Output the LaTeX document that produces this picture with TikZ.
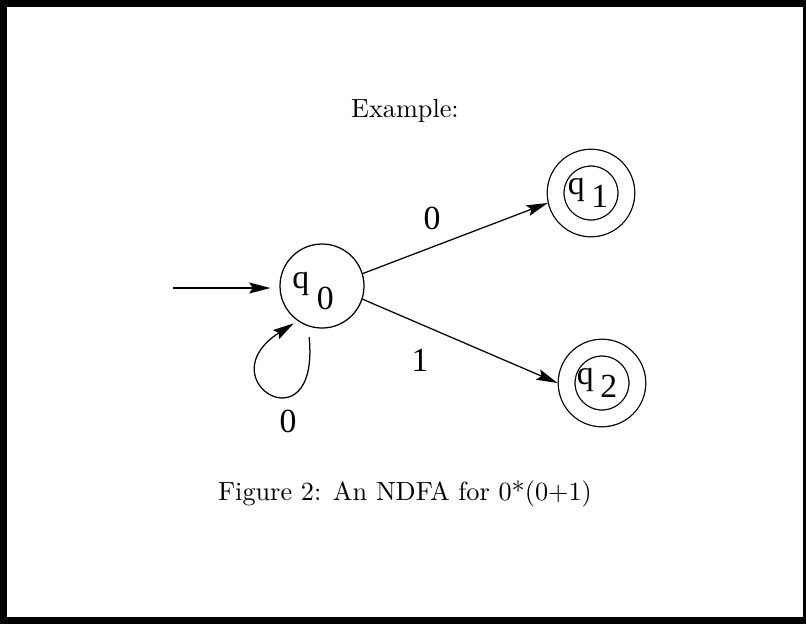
\documentclass[tikz,border=0pt]{standalone}
\usepackage{fontspec}
\newfontfamily\timesfont{Liberation Serif}
\usetikzlibrary{arrows.meta}

\begin{document}
\begin{tikzpicture}[
    x=0.4pt, y=-0.4pt, line width=0.5pt,
    state/.style={draw, circle, inner sep=0pt, minimum size=33.6pt, font=\timesfont\fontsize{13.5}{15}\selectfont},
    accept/.style={state, double, double distance=6.2pt, minimum size=28.3pt, outer sep=3.6pt},
    lbl/.style={font=\timesfont\fontsize{13.5}{15}\selectfont},
    txt/.style={font=\fontsize{10.5}{13}\selectfont},
    arr/.style={-{Stealth[length=8.5pt, width=4.4pt, inset=1.5pt]}},
  ]
  \useasboundingbox (0,0) rectangle (806,623);
  \draw[line width=2.8pt] (3.5,3.5) rectangle (806.5,620);

  \node[txt] (title) at (405,111) {Example:};

  % states
  \node[state] (q0) at (322,286) {q\hspace{3pt}\raisebox{-8.2pt}{0}\rule{0pt}{10.4pt}\kern7.2pt};
  \node[accept] (q1) at (591,193) {q\hspace{2.6pt}\raisebox{-5.4pt}{1}\kern2.4pt};
  \node[accept] (q2) at (602,383) {q\hspace{2.6pt}\raisebox{-5.4pt}{2}\kern4pt};

  % start arrow
  \coordinate (init) at (173,288);
  \draw[arr, shorten >=3.6pt] (init) -- (init -| q0.west);

  % transitions
  \draw[arr] (q0.17) -- (q1.193);
  \draw[arr] (q0.-18) -- (q2.180);
  \draw[arr, shorten <=4.4pt, shorten >=1.8pt] (q0.251) .. controls (320,450) and (205,380) .. (q0.235);

  \node[lbl] (l01) at (432,218) {0};
  \node[lbl] (l02) at (420,360) {1};
  \node[lbl] (l00) at (288,421) {0};

  \node[txt] (caption) at (405,494) {Figure 2: An NDFA for 0*(0+1)};
\end{tikzpicture}
\end{document}
